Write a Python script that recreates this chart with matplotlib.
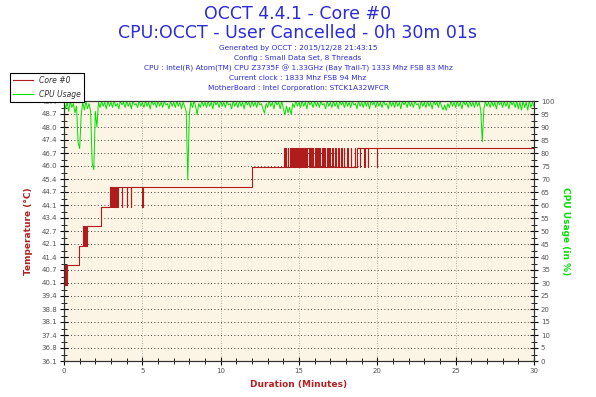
import matplotlib
matplotlib.use("Agg")
import matplotlib.pyplot as plt
import numpy as np

# temperature of core #0 (deg C), step changes over time (minutes)
temp_time = [0.00, 0.05, 0.08, 0.12, 0.15, 0.19,
             0.98, 1.23, 1.27, 1.30, 1.34, 1.38, 1.41, 1.45,
             2.34, 2.94, 2.97, 3.00, 3.04, 3.08, 3.15, 3.18, 3.26, 3.29, 3.40, 3.43,
             3.68, 3.71, 3.99, 4.02, 4.25, 4.28, 5.00, 5.03,
             12.00,
             14.04, 14.10, 14.16, 14.20, 14.28, 14.32, 14.40, 14.46, 14.52, 14.56,
             14.64, 14.70, 14.74, 14.82, 14.88, 14.92, 15.00, 15.06, 15.12, 15.20,
             15.26, 15.34, 15.40, 15.46, 15.54, 15.62, 15.70, 15.76, 15.86, 15.92,
             16.00, 16.06, 16.16, 16.22, 16.30, 16.36, 16.46, 16.52, 16.60, 16.66,
             16.78, 16.84, 16.94, 17.00, 17.10, 17.16, 17.30, 17.36, 17.48, 17.54,
             17.66, 17.72, 17.86, 17.90, 18.06, 18.10, 18.30, 18.34, 18.56, 18.60,
             18.70, 18.88, 18.92, 19.18, 19.22, 19.38, 19.42, 19.95, 19.98,
             30.00]
temp_level = [40, 41, 40, 41, 40, 41,
              42, 43, 42, 43, 42, 43, 42, 43,
              44, 45, 44, 45, 44, 45, 44, 45, 44, 45, 44, 45,
              44, 45, 44, 45, 44, 45, 44, 45,
              46,
              47, 46, 47, 46, 47, 46, 47, 46, 47, 46,
              47, 46, 47, 46, 47, 46, 47, 46, 47, 46,
              47, 46, 47, 46, 47, 46, 47, 46, 47, 46,
              47, 46, 47, 46, 47, 46, 47, 46, 47, 46,
              47, 46, 47, 46, 47, 46, 47, 46, 47, 46,
              47, 46, 47, 46, 47, 46, 47, 46, 47, 46,
              47, 46, 47, 46, 47, 46, 47, 46, 47,
              47]

# CPU usage (%), one sample every 0.1 minute, one row per minute
cpu_step = 0.1
cpu_usage = [
    100, 97, 99.5, 96, 100, 97.5, 99, 95.5, 98, 84,
    81.7, 95, 99.5, 96.5, 100, 97, 99, 96, 76, 73.6,
    96, 90, 99.5, 97.5, 100, 98, 99.5, 97, 100, 98,
    99.5, 97.5, 100, 98, 99, 97, 100, 98.5, 99.5, 97.5,
    100, 98, 99.5, 97, 100, 98.5, 99, 97.5, 100, 98,
    99.5, 97.5, 100, 98, 99.5, 97, 100, 98.5, 99.5, 97.5,
    100, 98, 99.5, 97.5, 100, 98.5, 99, 97, 100, 98,
    99.5, 97.5, 100, 98, 99.5, 97, 99.5, 98, 96, 69.7,
    95, 99.5, 97.5, 100, 98, 94.7, 99, 97.5, 100, 98,
    99.5, 97.5, 100, 98, 99.5, 97, 100, 98.5, 99.5, 97.5,
    100, 98, 99.5, 97.5, 100, 98.5, 99, 97, 100, 98,
    99.5, 97.5, 100, 98, 99.5, 97, 100, 98.5, 99.5, 97.5,
    100, 98, 99.5, 97.5, 100, 98.5, 99, 97, 95.3, 99,
    97.5, 100, 98, 99.5, 97, 100, 98.5, 99.5, 97, 100,
    97, 94.7, 98, 95.5, 97.5, 94.8, 99, 97.5, 100, 98,
    99.5, 97.5, 100, 98, 99.5, 97, 100, 98.5, 99.5, 97.5,
    100, 98, 99.5, 97.5, 100, 98.5, 99, 97, 100, 98,
    99.5, 97.5, 100, 98, 99.5, 97, 100, 98.5, 99.5, 97.5,
    100, 98, 99.5, 97.5, 100, 98.5, 99, 97, 100, 98,
    99.5, 97.5, 100, 98, 99.5, 97, 100, 98.5, 99.5, 97.5,
    100, 98, 99.5, 97.5, 100, 98.5, 99, 97, 100, 98,
    99.5, 97.5, 100, 98, 99.5, 97, 100, 98.5, 99.5, 97.5,
    100, 98, 99.5, 97.5, 100, 98.5, 99, 97, 100, 98,
    99.5, 97.5, 100, 98, 99.5, 97, 100, 98.5, 99.5, 97.5,
    100, 98, 96.6, 98.5, 96.4, 99, 97.5, 100, 98, 99.5,
    97.5, 100, 98, 99.5, 97, 100, 98.5, 99.5, 97.5, 100,
    98, 99.5, 97.5, 100, 98, 99.5, 96.5, 84.3, 97, 100,
    98, 99.5, 97.5, 100, 98, 99.5, 97, 100, 98.5, 99.5,
    97.5, 100, 98, 99.5, 97, 100, 98.5, 99.5, 97.5, 100,
    97, 99.5, 96.5, 100, 97.5, 99.5, 96.5, 100, 97.5, 99.5,
    98]

temp_ticklabels = ["36.1", "36.8", "37.4", "38.1", "38.8", "39.4", "40.1",
                   "40.7", "41.4", "42.1", "42.7", "43.4", "44.1", "44.7",
                   "45.4", "46.0", "46.7", "47.4", "48.0", "48.7", "49.4"]

title_lines = ["OCCT 4.4.1 - Core #0",
               "CPU:OCCT - User Cancelled - 0h 30m 01s"]
info_lines = ["Generated by OCCT : 2015/12/28 21:43:15",
              "Config : Small Data Set, 8 Threads",
              "CPU : Intel(R) Atom(TM) CPU Z3735F @ 1.33GHz (Bay Trail-T) 1333 Mhz FSB 83 Mhz",
              "Current clock : 1833 Mhz FSB 94 Mhz",
              "MotherBoard : Intel Corporation: STCK1A32WFCR"]

W, H = 596, 397
blue = "#2b2bd9"
red = "#b01c1c"
green = "#00e000"
tick_col = "#555555"

fig = plt.figure(figsize=(W / 100, H / 100), dpi=100)
ax = fig.add_axes([64 / W, 1 - 361 / H, 470 / W, 260 / H])
ax.set_facecolor("#fcf4e4")
ax2 = ax.twinx()

cpu_time = np.arange(len(cpu_usage)) * cpu_step
ax.plot(temp_time, temp_level, drawstyle="steps-post", color=red, lw=0.8)
ax2.plot(cpu_time, cpu_usage, color=green, lw=0.7)

ax.set_xlim(0, 30)
ax.set_ylim(36.1, 49.4)
ax2.set_ylim(0, 100)

ytk = np.linspace(36.1, 49.4, len(temp_ticklabels))
ax.set_yticks(ytk)
ax.set_yticklabels(temp_ticklabels)
ax.set_yticks((ytk[:-1] + ytk[1:]) / 2, minor=True)
ax.set_xticks(range(0, 31, 5))
ax.set_xticks(range(0, 31), minor=True)
ax2.set_yticks(range(0, 101, 5))
ax2.set_yticks(np.arange(2.5, 100, 5), minor=True)

for a in (ax, ax2):
    a.tick_params(which="major", direction="inout", length=6, width=0.8,
                  color="black", labelsize=5, labelcolor=tick_col, pad=2)
    a.tick_params(which="minor", direction="inout", length=4, width=0.6, color="black")
    for s in a.spines.values():
        s.set_linewidth(0.8)
        s.set_color("#333333")

ax.yaxis.grid(True, which="major", linestyle=(0, (1, 3)), color="black", lw=0.6)
ax.xaxis.grid(True, which="major", linestyle=(0, (1, 2)), color="#999999", lw=0.6)
ax.set_axisbelow(True)

ax.set_ylabel("Temperature (°C)", color="#b22222", fontsize=6.5,
              fontweight="bold", labelpad=6)
ax2.set_ylabel("CPU Usage (in %)", color=green, fontsize=6.5,
               fontweight="bold", rotation=-90, labelpad=11)
ax.set_xlabel("Duration (Minutes)", color="#b22222", fontsize=6.5,
              fontweight="bold", labelpad=4)

fig.text(0.5, 1 - 14 / H, title_lines[0], ha="center", va="center",
         color=blue, fontsize=12.5)
fig.text(0.5, 1 - 33 / H, title_lines[1], ha="center", va="center",
         color=blue, fontsize=12.5)
for i, line in enumerate(info_lines):
    fig.text(0.5, 1 - (48 + 10 * i) / H, line, ha="center", va="center",
             color=blue, fontsize=5.3)

h1, = ax.plot([], [], color=red, lw=0.8)
h2, = ax.plot([], [], color=green, lw=0.8)
leg = fig.legend([h1, h2], ["Core #0", "CPU Usage"], loc="upper left",
                 bbox_to_anchor=(10 / W, 1 - 73 / H), fancybox=False,
                 framealpha=1, edgecolor="black",
                 prop={"style": "italic", "size": 5.5}, handlelength=2.6,
                 borderpad=0.4, labelspacing=0.6, borderaxespad=0)
leg.get_frame().set_linewidth(0.8)
for t in leg.get_texts():
    t.set_color("#333333")

fig.savefig("out.png", dpi=100)
